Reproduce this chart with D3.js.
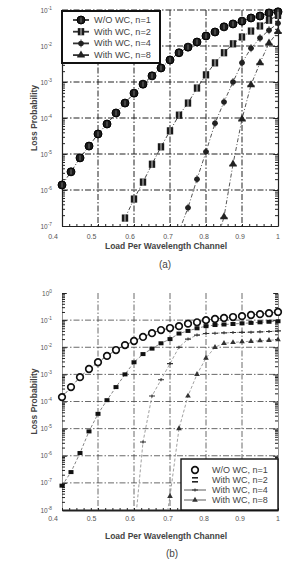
<!DOCTYPE html>
<html><head><meta charset="utf-8">
<script src="https://cdn.jsdelivr.net/npm/d3@7"></script>
<style>body{margin:0;background:#fff}svg{display:block}text{font-family:"Liberation Sans",Arial,sans-serif}</style>
</head><body><svg id="c" width="289" height="563"></svg>
<script>
// ---------- data ----------
const loadsFull = [0.4,0.425,0.45,0.475,0.5,0.525,0.55,0.575,0.6,0.625,0.65,0.675,0.7,0.725,0.75,0.775,0.8,0.825,0.85,0.875,0.9,0.925,0.95,0.975,1.0];
const xTickLabels = ["0.4","0.5","0.6","0.7","0.8","0.9","1"];
const xTicks = [0.4,0.5,0.6,0.7,0.8,0.9,1.0];
const legendLabels = ["W/O WC, n=1","With WC, n=2","With WC, n=4","With WC, n=8"];

// (a)
const aN1 = [1.38e-6,3.2e-6,7.8e-6,1.66e-5,3.6e-5,6.8e-5,1.38e-4,2.6e-4,4.9e-4,8.7e-4,1.48e-3,2.45e-3,4.1e-3,6.5e-3,9.3e-3,1.29e-2,1.9e-2,2.45e-2,3.4e-2,4.1e-2,4.9e-2,6.0e-2,6.8e-2,8.3e-2,8.9e-2];
const aN2x = [0.575,0.6,0.625,0.65,0.675,0.7,0.725,0.75,0.775,0.8,0.825,0.85,0.875,0.9,0.925,0.95,0.975,1.0];
const aN2 = [1.66e-7,5.6e-7,1.66e-6,5.2e-6,1.58e-5,4.4e-5,1.2e-4,2.6e-4,6.8e-4,1.58e-3,3.4e-3,6.5e-3,1.15e-2,1.78e-2,2.6e-2,3.6e-2,5.2e-2,7.1e-2];
const aN4x = [0.725,0.75,0.775,0.8,0.825,0.85,0.875,0.9,0.925,0.95,0.975,1.0];
const aN4 = [7.1e-8,3.2e-7,2.0e-6,1.15e-5,7.1e-5,2.8e-4,1.0e-3,3.4e-3,8.7e-3,1.66e-2,2.75e-2,4.3e-2];
const aN8x = [0.825,0.85,0.875,0.9,0.925,0.95,0.975,1.0];
const aN8 = [2.5e-8,1.78e-7,5.2e-6,9.3e-5,8.3e-4,3.4e-3,1.2e-2,2.5e-2];

// (b)
const bN1 = [1.45e-4,3.4e-4,7.9e-4,1.58e-3,2.8e-3,4.8e-3,7.9e-3,1.2e-2,1.7e-2,2.4e-2,3.3e-2,4.3e-2,5.1e-2,6.0e-2,7.4e-2,8.3e-2,0.1,0.11,0.12,0.13,0.14,0.155,0.166,0.18,0.2];
const bN2 = [7.9e-8,2.5e-7,1.26e-6,7.9e-6,3.5e-5,1.12e-4,3.4e-4,1e-3,2.8e-3,5.6e-3,8.9e-3,1.4e-2,2e-2,3.2e-2,4e-2,5e-2,6e-2,6.6e-2,6.9e-2,7.2e-2,7.6e-2,7.9e-2,8.3e-2,8.7e-2,9.1e-2];
const bN4x = [0.6,0.625,0.65,0.675,0.7,0.725,0.75,0.775,0.8,0.825,0.85,0.875,0.9,0.925,0.95,0.975,1.0];
const bN4 = [1e-9,3.2e-6,1.6e-4,6.3e-4,2.5e-3,1e-2,2e-2,2.8e-2,3.2e-2,3.3e-2,3.4e-2,3.5e-2,3.55e-2,3.6e-2,3.7e-2,3.8e-2,4e-2];
const bN8x = [0.675,0.7,0.725,0.75,0.775,0.8,0.825,0.85,0.875,0.9,0.925,0.95,0.975,1.0];
const bN8 = [3.2e-10,3.2e-8,1e-5,1.6e-4,1e-3,4e-3,1e-2,1.4e-2,1.5e-2,1.6e-2,1.66e-2,1.74e-2,1.8e-2,1.9e-2];

// ---------- drawing ----------
const svg = d3.select("#c");
const zip = (xs, ys) => xs.map((x,i)=>({x, y: ys[i]}));

function panel(cfg){
  const x = d3.scaleLinear().domain([0.4,1]).range([62,278]);
  const y = d3.scaleLog().domain(cfg.ydom).range([cfg.bottom, cfg.top]);
  const g = svg.append("g");
  const id = "clip"+cfg.name;
  svg.append("clipPath").attr("id",id).append("rect")
     .attr("x",56).attr("y",cfg.top-5).attr("width",228).attr("height",cfg.bottom-cfg.top+5);

  const decs = d3.range(Math.log10(cfg.ydom[0]), Math.log10(cfg.ydom[1])+1).map(e=>Math.pow(10,e));
  g.selectAll(".hg").data(decs.slice(1,-1)).join("line")
    .attr("x1",x(0.4)).attr("x2",x(1)).attr("y1",d=>y(d)).attr("y2",d=>y(d))
    .attr("stroke",cfg.gridColor).attr("stroke-width",cfg.gridW).attr("stroke-dasharray","6,2,1.5,2");
  g.selectAll(".vg").data([0.5,0.6,0.7,0.8,0.9]).join("line")
    .attr("x1",d=>x(d)).attr("x2",d=>x(d)).attr("y1",cfg.top).attr("y2",cfg.bottom)
    .attr("stroke",cfg.gridColor).attr("stroke-width",cfg.gridW).attr("stroke-dasharray","6,2,1.5,2");
  if(cfg.topBorder) g.append("line").attr("x1",62).attr("x2",278).attr("y1",cfg.top).attr("y2",cfg.top)
     .attr("stroke","#222").attr("stroke-width",1.2).attr("stroke-dasharray","6,2,1.5,2");

  const yAxisL = d3.axisLeft(y).tickSizeInner(-3).tickSizeOuter(0).tickFormat("");
  const yAxisR = d3.axisRight(y).tickSizeInner(-3).tickSizeOuter(0).tickFormat("");
  const gl = g.append("g").attr("transform","translate(62,0)").call(yAxisL);
  const gr = g.append("g").attr("transform","translate(278,0)").call(yAxisR);
  [gl,gr].forEach(a=>{
    a.select(".domain").attr("stroke",cfg.axisColor).attr("stroke-width",cfg.axisW);
    a.selectAll(".tick line").attr("stroke","#222").attr("stroke-width",1)
      .attr("x2",function(d){const s=+d3.select(this).attr("x2"); const major=Math.abs(Math.log10(d)-Math.round(Math.log10(d)))<1e-6; return major? s*1.6 : s;});
  });
  const xMinor = d3.range(0.4,1.0001,0.02);
  const xAxisB = d3.axisBottom(x).tickValues(xMinor).tickSizeInner(-2).tickSizeOuter(0).tickFormat("");
  const gb = g.append("g").attr("transform",`translate(0,${cfg.bottom})`).call(xAxisB);
  gb.select(".domain").attr("stroke","#222").attr("stroke-width",cfg.bottomW);
  gb.selectAll(".tick line").attr("stroke","#222");

  const yl = g.append("g");
  decs.forEach(d=>{
    const t = yl.append("text").attr("x",52).attr("y",y(d)+2.5).attr("text-anchor","end")
      .attr("font-size",6.5).attr("fill","#555");
    t.append("tspan").text("10");
    const e = Math.round(Math.log10(d));
    t.append("tspan").attr("dy",-3).attr("font-size",4.8).text(e===0?"0":"-"+Math.abs(e));
  });
  g.selectAll(".xl").data(xTicks).join("text")
    .attr("x",(d,i)=>x(d)-(i<3?(9-i*2.5):(i<6?2:0))).attr("y",cfg.bottom+cfg.xlabOff).attr("text-anchor","middle")
    .attr("font-size",7).attr("fill","#555").text((d,i)=>xTickLabels[i]);

  g.append("text").attr("transform",`translate(37,${(cfg.top+cfg.bottom)/2}) rotate(-90)`)
    .attr("text-anchor","middle").attr("font-size",8.5).attr("font-weight","bold").attr("fill","#444").text("Loss Probability");
  g.append("text").attr("x",166).attr("y",cfg.bottom+cfg.titleOff).attr("text-anchor","middle")
    .attr("font-size",8.5).attr("font-weight","bold").attr("fill","#444").text("Load Per Wavelength Channel");
  g.append("text").attr("x",cfg.capX).attr("y",cfg.bottom+cfg.capOff).attr("text-anchor","middle")
    .attr("font-size",10).attr("fill","#444").text(cfg.cap);

  const line = d3.line().x(d=>x(d.x)).y(d=>y(d.y));
  const data = g.append("g").attr("clip-path",`url(#${id})`);
  cfg.series.forEach(s=>{
    data.append("path").datum(s.pts).attr("d",line).attr("fill","none")
      .attr("stroke",s.lc).attr("stroke-width",s.lw).attr("stroke-dasharray",s.dash);
    const mg = data.append("g");
    s.pts.forEach(p=>{ s.mark(mg.append("g").attr("transform",`translate(${x(p.x)},${y(p.y)})`)); });
  });
  return {x,y,g};
}

// markers
const mCircleA = m => { m.append("circle").attr("r",4).attr("fill","#1a1a1a").attr("stroke","#000");
  m.append("line").attr("x1",0).attr("x2",0).attr("y1",-2.5).attr("y2",2.5).attr("stroke","#888").attr("stroke-width",0.8);};
const mSquareA = m => { m.append("rect").attr("x",-3.2).attr("y",-3.6).attr("width",6.4).attr("height",7.2).attr("fill","#1a1a1a");
  m.append("line").attr("x1",0).attr("x2",0).attr("y1",-3.6).attr("y2",3.6).attr("stroke","#fff").attr("stroke-width",0.8);};
const mDiamA = m => { m.append("path").attr("d",d3.symbol(d3.symbolCircle,24)()).attr("fill","#222");
  m.append("path").attr("d","M0,-4V4M-3,0H3").attr("stroke","#222").attr("stroke-width",0.8);};
const mTriA = m => { m.append("path").attr("d",d3.symbol(d3.symbolTriangle,28)()).attr("fill","#222");
  m.append("path").attr("d","M-4,1H4").attr("stroke","#222").attr("stroke-width",0.8);};

const mCircleB = m => m.append("circle").attr("r",3.3).attr("fill","#fff").attr("stroke","#111").attr("stroke-width",1.7);
const mSquareB = m => m.append("rect").attr("x",-2.5).attr("y",-2).attr("width",5).attr("height",4).attr("fill","#111");
const mPlusB = m => m.append("path").attr("d","M-3,0H3M0,-1.5V1.5").attr("stroke","#333").attr("stroke-width",1.1);
const mTriB = m => m.append("path").attr("d",d3.symbol(d3.symbolTriangle,14)()).attr("fill","#333");

panel({name:"a", ydom:[1e-7,1e-1], top:10, bottom:226, gridColor:"#222", gridW:1, axisColor:"#222", axisW:1.2, bottomW:1.2,
  topBorder:true, xlabOff:13, titleOff:23, capOff:42, capX:165, cap:"(a)",
  series:[
    {pts:zip(loadsFull,aN1), mark:mCircleA, lc:"#333", lw:1, dash:"4,2,1,2"},
    {pts:zip(aN2x,aN2), mark:mSquareA, lc:"#444", lw:1, dash:"4,2,1,2"},
    {pts:zip(aN4x,aN4), mark:mDiamA, lc:"#555", lw:1, dash:"4,2,1,2"},
    {pts:zip(aN8x,aN8), mark:mTriA, lc:"#555", lw:1, dash:"4,2,1,2"}
  ]});

panel({name:"b", ydom:[1e-8,1], top:293, bottom:510, gridColor:"#444", gridW:0.8, axisColor:"#777", axisW:0.8, bottomW:2.2,
  topBorder:false, xlabOff:11, titleOff:29, capOff:47, capX:172, cap:"(b)",
  series:[
    {pts:zip(loadsFull,bN1), mark:mCircleB, lc:"#333", lw:0.8, dash:"3,2"},
    {pts:zip(loadsFull,bN2), mark:mSquareB, lc:"#666", lw:0.8, dash:"3,2"},
    {pts:zip(bN4x,bN4), mark:mPlusB, lc:"#888", lw:0.8, dash:"3,2"},
    {pts:zip(bN8x,bN8), mark:mTriB, lc:"#888", lw:0.8, dash:"3,2"}
  ]});

function legend(cfg){
  const g = svg.append("g");
  g.append("rect").attr("x",cfg.x).attr("y",cfg.y).attr("width",cfg.w).attr("height",cfg.h)
    .attr("fill","#fff").attr("stroke","#111").attr("stroke-width",cfg.bw);
  legendLabels.forEach((lab,i)=>{
    const yy = cfg.y + cfg.y0 + i*cfg.dy;
    if(cfg.lines[i]) g.append("line").attr("x1",cfg.sx-cfg.ll).attr("x2",cfg.sx+cfg.ll).attr("y1",yy).attr("y2",yy)
      .attr("stroke","#333").attr("stroke-width",cfg.lw);
    cfg.marks[i](g.append("g").attr("transform",`translate(${cfg.sx},${yy})`));
    g.append("text").attr("x",cfg.tx).attr("y",yy+3).attr("font-size",cfg.fs).attr("fill","#444").text(lab);
  });
}
legend({x:62,y:11,w:98,h:52,bw:2,y0:9,dy:11.7,sx:81,ll:8,tx:94,fs:9.2,lw:1.8,lines:[1,1,1,1],
  marks:[mCircleA,mSquareA,mDiamA,mTriA]});
legend({x:181,y:459,w:97,h:51,bw:1.4,y0:11,dy:10,sx:195,ll:11,tx:212,fs:9,lw:0.8,lines:[0,0,1,1],
  marks:[mCircleB,m=>{m.append("rect").attr("x",-3).attr("y",-3).attr("width",6).attr("height",1.6).attr("fill","#222");
    m.append("rect").attr("x",-3).attr("y",1).attr("width",6).attr("height",1.6).attr("fill","#222");},mPlusB,mTriB]});
</script></body></html>
